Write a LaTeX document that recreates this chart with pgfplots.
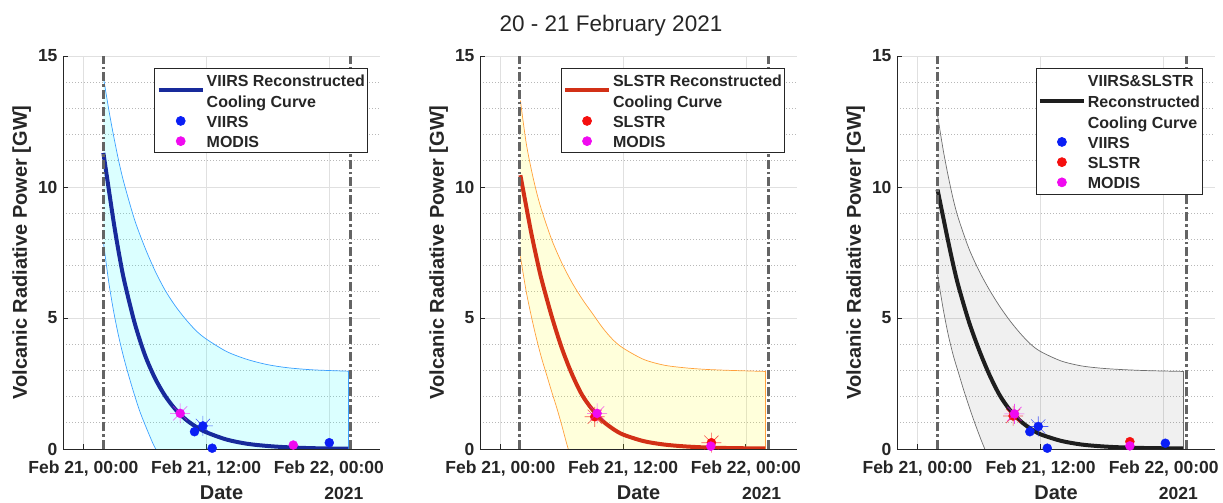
\documentclass[border=0pt]{standalone}
\usepackage{fontspec}
\setmainfont{Liberation Sans}
\usepackage{pgfplots}
\pgfplotsset{compat=1.18}

\definecolor{cviirs}{RGB}{10,30,245}
\definecolor{cslstr}{RGB}{245,15,15}
\definecolor{cmodis}{RGB}{240,10,240}
\definecolor{curveA}{RGB}{24,42,155}
\definecolor{curveB}{RGB}{210,48,22}
\definecolor{curveC}{RGB}{30,30,30}
\definecolor{edgeA}{RGB}{60,160,255}
\definecolor{edgeB}{RGB}{255,160,60}
\definecolor{edgeC}{RGB}{110,110,110}
\definecolor{fillA}{RGB}{0,255,255}
\definecolor{fillB}{RGB}{255,255,0}
\definecolor{fillC}{RGB}{0,0,0}
\definecolor{vline}{RGB}{100,100,100}

\pgfdeclareplotmark{burst}{%
  \foreach \a in {0,45,...,315}{%
    \pgfpathmoveto{\pgfpointorigin}%
    \pgfpathlineto{\pgfpointpolar{\a}{\pgfplotmarksize}}}%
  \pgfusepathqstroke}

\pgfplotsset{
  linelegend/.style={legend image code/.code={%
      \path[draw=none] (0pt,0pt) -- (48pt,0pt);
      \draw[##1] (4pt,0pt) -- (48pt,0pt);}},
  dotlegend/.style={legend image code/.code={%
      \path[draw=none] (0pt,0pt) -- (48pt,0pt);
      \path[##1, draw=none] plot[only marks, mark=*, mark size=4.5pt] coordinates {(26pt,0pt)};}},
  vrp/.style={
    scale only axis, width=317pt, height=393pt,
    anchor=south west,
    xmin=-2, xmax=29, ymin=0, ymax=15,
    axis x line*=bottom, axis y line*=left,
    axis line style={-, draw=black!85, line width=0.9pt},
    xtick={0,12,24},
    xticklabels={{Feb 21, 00:00},{Feb 21, 12:00},{Feb 22, 00:00}},
    ytick={0,5,10,15}, yticklabels={0,5,10,15},
    minor ytick={1,2,3,4,6,7,8,9,11,12,13,14},
    tick align=inside, major tick length=5pt, minor tick length=0pt,
    tick style={draw=black!85, line width=0.8pt},
    xmajorgrids, ymajorgrids, yminorgrids,
    major grid style={draw=black!12, line width=0.7pt},
    minor grid style={draw=black!28, line width=0.7pt, dash pattern=on 1pt off 2pt},
    tick label style={font=\fontsize{17.5}{20}\selectfont\bfseries, text=black!85},
    xticklabel style={yshift=-8pt},
    yticklabel style={xshift=-2pt},
    xlabel={Date}, ylabel={Volcanic Radiative Power [GW]},
    label style={font=\fontsize{20}{24}\selectfont\bfseries, text=black!85},
    xlabel style={at={(axis description cs:0.5,-0.128)}, anchor=base},
    ylabel style={at={(axis description cs:-0.114,0.5)}, anchor=base},
    legend style={at={(rel axis cs:0.96,0.97)}, anchor=north east,
      draw=black!85, line width=0.7pt, fill=white,
      font=\fontsize{16}{21}\selectfont\bfseries, text=black!85,
      inner xsep=0pt, inner ysep=1.5pt, row sep=0pt,
      cells={anchor=west, align=left, inner xsep=4pt, inner ysep=0pt}},
  },
  central/.style={smooth, line width=4pt, forget plot},
  band/.style={draw=none, fill opacity=0.14, forget plot},
  edge/.style={smooth, line width=0.7pt, forget plot},
  dash/.style={draw=vline, line width=3pt, dash pattern=on 9pt off 3pt on 2.5pt off 3pt, forget plot},
  dot/.style={only marks, mark=*, mark size=4.5pt, forget plot},
  star/.style={only marks, mark=burst, mark size=10pt, line width=0.6pt, opacity=0.7, forget plot},
}

\begin{document}
\begin{tikzpicture}
\path[use as bounding box] (0,0) rectangle (1223pt,503pt);

% ---------- VIIRS ----------
\begin{axis}[vrp, at={(63pt,54pt)}]
\addlegendimage{linelegend, line width=4pt, color=curveA}
\addlegendentry{\strut VIIRS Reconstructed\\\strut Cooling Curve}
\addlegendimage{dotlegend, color=cviirs}
\addlegendentry{\strut VIIRS}
\addlegendimage{dotlegend, color=cmodis}
\addlegendentry{\strut MODIS}

\addplot[band, fill=fillA] coordinates {
(1.95,14.2) (2.5,12.9) (3,11.85) (3.5,10.9) (4,10.1) (5,8.75) (6,7.7) (7,6.8) (8,6.05) (9,5.45) (10,4.95) (11,4.52) (12,4.2) (14,3.72) (16,3.42) (18,3.22) (20,3.1) (22.5,3.02) (25.9,2.97)
(25.9,-2) (22,-2) (17,-1.9) (13,-1.7) (10,-1.2) (8,-0.55) (7,0.05) (6.5,0.48) (6,0.95) (5.5,1.45) (5,2.05) (4.5,2.7) (4,3.4) (3.5,4.2) (3,5.15) (2.5,6.3) (1.95,7.9)} -- cycle;
\addplot[edge, draw=edgeA] coordinates {
(1.95,14.2) (2.5,12.9) (3,11.85) (3.5,10.9) (4,10.1) (5,8.75) (6,7.7) (7,6.8) (8,6.05) (9,5.45) (10,4.95) (11,4.52) (12,4.2) (14,3.72) (16,3.42) (18,3.22) (20,3.1) (22.5,3.02) (25.9,2.97)};
\addplot[edge, draw=edgeA] coordinates {
(1.95,7.9) (2.5,6.3) (3,5.15) (3.5,4.2) (4,3.4) (4.5,2.7) (5,2.05) (5.5,1.45) (6,0.95) (6.5,0.48) (7,0.05) (8,-0.55) (10,-1.2) (13,-1.7) (17,-1.9) (22,-2) (25.9,-2)};
\addplot[edge, draw=edgeA] coordinates {(25.9,2.97) (25.9,0)};
\addplot[central, draw=curveA] coordinates {
(1.95,11.3) (2.5,9.85) (3,8.55) (3.5,7.4) (4,6.4) (5,4.82) (6,3.6) (7,2.7) (8,2.02) (9,1.51) (10,1.13) (11,0.85) (12,0.64) (14,0.36) (16,0.2) (18,0.115) (20,0.065) (22.5,0.03) (25.9,0.012)};
\addplot[dash] coordinates {(1.95,0) (1.95,15)};
\addplot[dash] coordinates {(26.15,0) (26.15,15)};
\addplot[star, color=cmodis] coordinates {(9.46,1.36)};
\addplot[star, color=cviirs] coordinates {(11.68,0.88)};
\addplot[dot, color=cviirs] coordinates {(10.86,0.66) (11.68,0.88) (12.59,0.03) (24.04,0.24)};
\addplot[dot, color=cmodis] coordinates {(9.46,1.36) (20.52,0.15)};
\end{axis}

% ---------- SLSTR ----------
\begin{axis}[vrp, at={(480pt,54pt)}]
\addlegendimage{linelegend, line width=4pt, color=curveB}
\addlegendentry{\strut SLSTR Reconstructed\\\strut Cooling Curve}
\addlegendimage{dotlegend, color=cslstr}
\addlegendentry{\strut SLSTR}
\addlegendimage{dotlegend, color=cmodis}
\addlegendentry{\strut MODIS}

\addplot[band, fill=fillB] coordinates {
(1.95,13.3) (2.5,11.72) (3,10.7) (3.5,9.85) (4,9.15) (5,8.0) (6,7.1) (7,6.35) (8,5.72) (9,5.17) (10,4.62) (11,4.17) (12,3.85) (14,3.42) (16,3.2) (18,3.1) (20,3.04) (22.5,3.0) (25.9,2.96)
(25.9,-2.5) (18,-2.45) (12,-2.2) (9,-1.8) (7.5,-1.0) (6.63,0) (6,0.9) (5.5,1.58) (5,2.2) (4.5,2.85) (4,3.5) (3.5,4.25) (3,5.1) (2.5,6.05) (1.95,7.35)} -- cycle;
\addplot[edge, draw=edgeB] coordinates {
(1.95,13.3) (2.5,11.72) (3,10.7) (3.5,9.85) (4,9.15) (5,8.0) (6,7.1) (7,6.35) (8,5.72) (9,5.17) (10,4.62) (11,4.17) (12,3.85) (14,3.42) (16,3.2) (18,3.1) (20,3.04) (22.5,3.0) (25.9,2.96)};
\addplot[edge, draw=edgeB] coordinates {
(1.95,7.35) (2.5,6.05) (3,5.1) (3.5,4.25) (4,3.5) (4.5,2.85) (5,2.2) (5.5,1.58) (6,0.9) (6.63,0) (7.5,-1.0) (9,-1.8) (12,-2.2) (18,-2.45) (25.9,-2.5)};
\addplot[edge, draw=edgeB] coordinates {(25.9,2.96) (25.9,0)};
\addplot[central, draw=curveB] coordinates {
(1.95,10.45) (2.5,9.3) (3,8.27) (3.5,7.35) (4,6.5) (5,5.08) (6,3.85) (7,2.85) (8,2.05) (9,1.5) (10,1.07) (11,0.77) (12,0.55) (14,0.3) (16,0.17) (18,0.1) (20,0.06) (22.5,0.035) (25.9,0.02)};
\addplot[dash] coordinates {(1.9,0) (1.9,15)};
\addplot[dash] coordinates {(26.2,0) (26.2,15)};
\addplot[star, color=cslstr] coordinates {(9.22,1.23) (20.63,0.24)};
\addplot[dot, color=cslstr] coordinates {(9.22,1.23) (20.63,0.24)};
\addplot[star, color=cmodis] coordinates {(9.45,1.36)};
\addplot[dot, color=cmodis] coordinates {(9.45,1.36) (20.57,0.11)};
\end{axis}

% ---------- VIIRS & SLSTR ----------
\begin{axis}[vrp, at={(897pt,54pt)}, width=318pt]
\addlegendimage{linelegend, line width=4pt, color=curveC}
\addlegendentry{\strut VIIRS\&SLSTR\\\strut Reconstructed\\\strut Cooling Curve}
\addlegendimage{dotlegend, color=cviirs}
\addlegendentry{\strut VIIRS}
\addlegendimage{dotlegend, color=cslstr}
\addlegendentry{\strut SLSTR}
\addlegendimage{dotlegend, color=cmodis}
\addlegendentry{\strut MODIS}

\addplot[band, fill=fillC, fill opacity=0.06] coordinates {
(1.95,12.75) (2.5,11.42) (3,10.4) (3.5,9.5) (4,8.78) (5,7.66) (6,6.8) (7,6.08) (8,5.45) (9,4.9) (10,4.42) (11,4.01) (12,3.72) (14,3.36) (16,3.17) (18,3.08) (20,3.03) (22.5,2.99) (25.9,2.96)
(25.9,-2.4) (18,-2.3) (12,-2.0) (9,-1.5) (7.5,-0.8) (6.56,0) (6,0.55) (5.5,1.08) (5,1.65) (4.5,2.25) (4,2.9) (3.5,3.55) (3,4.35) (2.5,5.35) (1.95,6.65)} -- cycle;
\addplot[edge, draw=edgeC] coordinates {
(1.95,12.75) (2.5,11.42) (3,10.4) (3.5,9.5) (4,8.78) (5,7.66) (6,6.8) (7,6.08) (8,5.45) (9,4.9) (10,4.42) (11,4.01) (12,3.72) (14,3.36) (16,3.17) (18,3.08) (20,3.03) (22.5,2.99) (25.9,2.96)};
\addplot[edge, draw=edgeC] coordinates {
(1.95,6.65) (2.5,5.35) (3,4.35) (3.5,3.55) (4,2.9) (4.5,2.25) (5,1.65) (5.5,1.08) (6,0.55) (6.56,0) (7.5,-0.8) (9,-1.5) (12,-2.0) (18,-2.3) (25.9,-2.4)};
\addplot[edge, draw=edgeC] coordinates {(25.9,2.96) (25.9,0)};
\addplot[central, draw=curveC] coordinates {
(1.95,9.9) (2.5,8.85) (3,7.9) (3.5,7.0) (4,6.2) (5,4.87) (6,3.78) (7,2.84) (8,2.06) (9,1.49) (10,1.08) (11,0.78) (12,0.56) (14,0.31) (16,0.17) (18,0.1) (20,0.06) (22.5,0.035) (25.9,0.02)};
\addplot[dash] coordinates {(1.96,0) (1.96,15)};
\addplot[dash] coordinates {(26.2,0) (26.2,15)};
\addplot[star, color=cslstr] coordinates {(9.32,1.26)};
\addplot[dot, color=cslstr] coordinates {(9.32,1.26) (20.7,0.28)};
\addplot[star, color=cmodis] coordinates {(9.45,1.34)};
\addplot[dot, color=cmodis] coordinates {(9.45,1.34) (20.7,0.12)};
\addplot[star, color=cviirs] coordinates {(11.77,0.86)};
\addplot[dot, color=cviirs] coordinates {(10.95,0.66) (11.77,0.86) (12.65,0.03) (24.16,0.22)};
\end{axis}

\node[anchor=base, font=\fontsize{22.5}{26}\selectfont, text=black!85] at (611pt,471.3pt) {20 - 21 February 2021};
\node[anchor=base, font=\fontsize{17.5}{20}\selectfont\bfseries, text=black!85] at (343.8pt,3.7pt) {2021};
\node[anchor=base, font=\fontsize{17.5}{20}\selectfont\bfseries, text=black!85] at (761.7pt,3.7pt) {2021};
\node[anchor=base, font=\fontsize{17.5}{20}\selectfont\bfseries, text=black!85] at (1178.3pt,3.7pt) {2021};
\end{tikzpicture}
\end{document}
